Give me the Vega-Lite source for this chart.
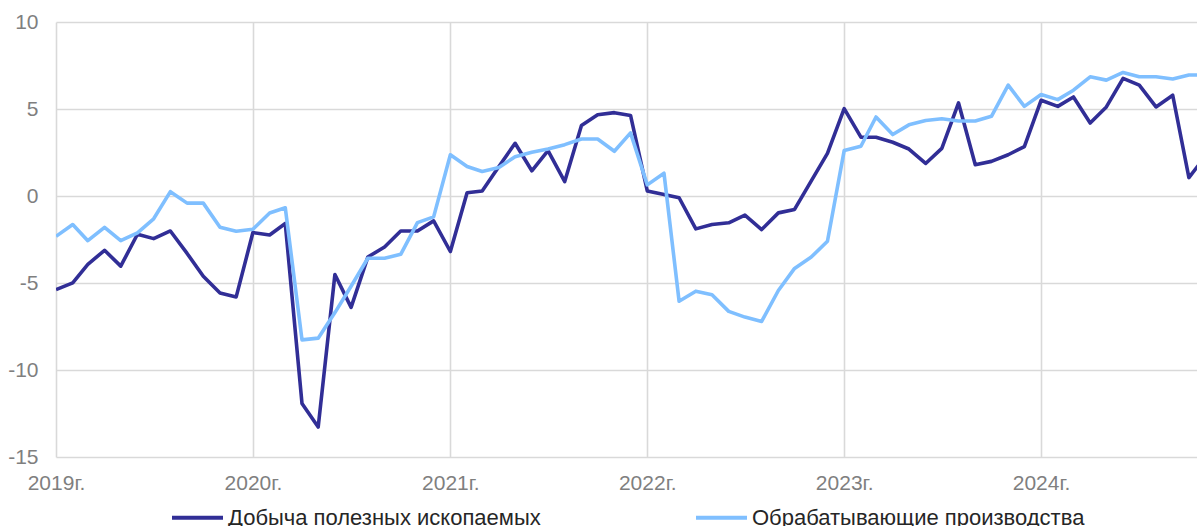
{
  "$schema": "https://vega.github.io/schema/vega-lite/v6.json",
  "autosize": {"type": "none"},
  "width": 1141,
  "height": 435,
  "padding": {"left": 56, "top": 22, "right": 0, "bottom": 69},
  "background": "white",
  "config": {
    "view": {"stroke": null},
    "font": "Liberation Sans"
  },
  "datasets": {
    "d": [
      {"m": "2019-01-01", "s": "Добыча полезных ископаемых", "v": -5.38},
      {"m": "2019-02-01", "s": "Добыча полезных ископаемых", "v": -4.99},
      {"m": "2019-03-01", "s": "Добыча полезных ископаемых", "v": -3.93},
      {"m": "2019-04-01", "s": "Добыча полезных ископаемых", "v": -3.12},
      {"m": "2019-05-01", "s": "Добыча полезных ископаемых", "v": -4.03},
      {"m": "2019-06-01", "s": "Добыча полезных ископаемых", "v": -2.2},
      {"m": "2019-07-01", "s": "Добыча полезных ископаемых", "v": -2.45},
      {"m": "2019-08-01", "s": "Добыча полезных ископаемых", "v": -2.01},
      {"m": "2019-09-01", "s": "Добыча полезных ископаемых", "v": -3.3},
      {"m": "2019-10-01", "s": "Добыча полезных ископаемых", "v": -4.61},
      {"m": "2019-11-01", "s": "Добыча полезных ископаемых", "v": -5.57},
      {"m": "2019-12-01", "s": "Добыча полезных ископаемых", "v": -5.8},
      {"m": "2020-01-01", "s": "Добыча полезных ископаемых", "v": -2.1},
      {"m": "2020-02-01", "s": "Добыча полезных ископаемых", "v": -2.24},
      {"m": "2020-03-01", "s": "Добыча полезных ископаемых", "v": -1.58},
      {"m": "2020-04-01", "s": "Добыча полезных ископаемых", "v": -11.93},
      {"m": "2020-05-01", "s": "Добыча полезных ископаемых", "v": -13.28},
      {"m": "2020-06-01", "s": "Добыча полезных ископаемых", "v": -4.51},
      {"m": "2020-07-01", "s": "Добыча полезных ископаемых", "v": -6.4},
      {"m": "2020-08-01", "s": "Добыча полезных ископаемых", "v": -3.51},
      {"m": "2020-09-01", "s": "Добыча полезных ископаемых", "v": -2.93},
      {"m": "2020-10-01", "s": "Добыча полезных ископаемых", "v": -2.01},
      {"m": "2020-11-01", "s": "Добыча полезных ископаемых", "v": -2.01},
      {"m": "2020-12-01", "s": "Добыча полезных ископаемых", "v": -1.43},
      {"m": "2021-01-01", "s": "Добыча полезных ископаемых", "v": -3.19},
      {"m": "2021-02-01", "s": "Добыча полезных ископаемых", "v": 0.19},
      {"m": "2021-03-01", "s": "Добыча полезных ископаемых", "v": 0.29},
      {"m": "2021-04-01", "s": "Добыча полезных ископаемых", "v": 1.7},
      {"m": "2021-05-01", "s": "Добыча полезных ископаемых", "v": 3.03},
      {"m": "2021-06-01", "s": "Добыча полезных ископаемых", "v": 1.45},
      {"m": "2021-07-01", "s": "Добыча полезных ископаемых", "v": 2.61},
      {"m": "2021-08-01", "s": "Добыча полезных ископаемых", "v": 0.83},
      {"m": "2021-09-01", "s": "Добыча полезных ископаемых", "v": 4.05},
      {"m": "2021-10-01", "s": "Добыча полезных ископаемых", "v": 4.67},
      {"m": "2021-11-01", "s": "Добыча полезных ископаемых", "v": 4.79},
      {"m": "2021-12-01", "s": "Добыча полезных ископаемых", "v": 4.63},
      {"m": "2022-01-01", "s": "Добыча полезных ископаемых", "v": 0.29},
      {"m": "2022-02-01", "s": "Добыча полезных ископаемых", "v": 0.08},
      {"m": "2022-03-01", "s": "Добыча полезных ископаемых", "v": -0.1},
      {"m": "2022-04-01", "s": "Добыча полезных ископаемых", "v": -1.89},
      {"m": "2022-05-01", "s": "Добыча полезных ископаемых", "v": -1.64},
      {"m": "2022-06-01", "s": "Добыча полезных ископаемых", "v": -1.54},
      {"m": "2022-07-01", "s": "Добыча полезных ископаемых", "v": -1.1},
      {"m": "2022-08-01", "s": "Добыча полезных ископаемых", "v": -1.93},
      {"m": "2022-09-01", "s": "Добыча полезных ископаемых", "v": -0.97},
      {"m": "2022-10-01", "s": "Добыча полезных ископаемых", "v": -0.77},
      {"m": "2022-11-01", "s": "Добыча полезных ископаемых", "v": 0.87},
      {"m": "2022-12-01", "s": "Добыча полезных ископаемых", "v": 2.45},
      {"m": "2023-01-01", "s": "Добыча полезных ископаемых", "v": 5.02},
      {"m": "2023-02-01", "s": "Добыча полезных ископаемых", "v": 3.38},
      {"m": "2023-03-01", "s": "Добыча полезных ископаемых", "v": 3.38},
      {"m": "2023-04-01", "s": "Добыча полезных ископаемых", "v": 3.09},
      {"m": "2023-05-01", "s": "Добыча полезных ископаемых", "v": 2.7},
      {"m": "2023-06-01", "s": "Добыча полезных ископаемых", "v": 1.87},
      {"m": "2023-07-01", "s": "Добыча полезных ископаемых", "v": 2.74},
      {"m": "2023-08-01", "s": "Добыча полезных ископаемых", "v": 5.35},
      {"m": "2023-09-01", "s": "Добыча полезных ископаемых", "v": 1.8},
      {"m": "2023-10-01", "s": "Добыча полезных ископаемых", "v": 1.99},
      {"m": "2023-11-01", "s": "Добыча полезных ископаемых", "v": 2.37},
      {"m": "2023-12-01", "s": "Добыча полезных ископаемых", "v": 2.84},
      {"m": "2024-01-01", "s": "Добыча полезных ископаемых", "v": 5.5},
      {"m": "2024-02-01", "s": "Добыча полезных ископаемых", "v": 5.15},
      {"m": "2024-03-01", "s": "Добыча полезных ископаемых", "v": 5.69},
      {"m": "2024-04-01", "s": "Добыча полезных ископаемых", "v": 4.19},
      {"m": "2024-05-01", "s": "Добыча полезных ископаемых", "v": 5.12},
      {"m": "2024-06-01", "s": "Добыча полезных ископаемых", "v": 6.76},
      {"m": "2024-07-01", "s": "Добыча полезных ископаемых", "v": 6.37},
      {"m": "2024-08-01", "s": "Добыча полезных ископаемых", "v": 5.12},
      {"m": "2024-09-01", "s": "Добыча полезных ископаемых", "v": 5.79},
      {"m": "2024-10-01", "s": "Добыча полезных ископаемых", "v": 1.06},
      {"m": "2024-11-01", "s": "Добыча полезных ископаемых", "v": 2.3},
      {"m": "2019-01-01", "s": "Обрабатывающие производства", "v": -2.32},
      {"m": "2019-02-01", "s": "Обрабатывающие производства", "v": -1.64},
      {"m": "2019-03-01", "s": "Обрабатывающие производства", "v": -2.57},
      {"m": "2019-04-01", "s": "Обрабатывающие производства", "v": -1.8},
      {"m": "2019-05-01", "s": "Обрабатывающие производства", "v": -2.57},
      {"m": "2019-06-01", "s": "Обрабатывающие производства", "v": -2.12},
      {"m": "2019-07-01", "s": "Обрабатывающие производства", "v": -1.31},
      {"m": "2019-08-01", "s": "Обрабатывающие производства", "v": 0.25},
      {"m": "2019-09-01", "s": "Обрабатывающие производства", "v": -0.41},
      {"m": "2019-10-01", "s": "Обрабатывающие производства", "v": -0.41},
      {"m": "2019-11-01", "s": "Обрабатывающие производства", "v": -1.8},
      {"m": "2019-12-01", "s": "Обрабатывающие производства", "v": -2.03},
      {"m": "2020-01-01", "s": "Обрабатывающие производства", "v": -1.91},
      {"m": "2020-02-01", "s": "Обрабатывающие производства", "v": -0.98},
      {"m": "2020-03-01", "s": "Обрабатывающие производства", "v": -0.68},
      {"m": "2020-04-01", "s": "Обрабатывающие производства", "v": -8.27},
      {"m": "2020-05-01", "s": "Обрабатывающие производства", "v": -8.17},
      {"m": "2020-06-01", "s": "Обрабатывающие производства", "v": -6.7},
      {"m": "2020-07-01", "s": "Обрабатывающие производства", "v": -5.19},
      {"m": "2020-08-01", "s": "Обрабатывающие производства", "v": -3.58},
      {"m": "2020-09-01", "s": "Обрабатывающие производства", "v": -3.58},
      {"m": "2020-10-01", "s": "Обрабатывающие производства", "v": -3.35},
      {"m": "2020-11-01", "s": "Обрабатывающие производства", "v": -1.53},
      {"m": "2020-12-01", "s": "Обрабатывающие производства", "v": -1.2},
      {"m": "2021-01-01", "s": "Обрабатывающие производства", "v": 2.37},
      {"m": "2021-02-01", "s": "Обрабатывающие производства", "v": 1.7},
      {"m": "2021-03-01", "s": "Обрабатывающие производства", "v": 1.41},
      {"m": "2021-04-01", "s": "Обрабатывающие производства", "v": 1.64},
      {"m": "2021-05-01", "s": "Обрабатывающие производства", "v": 2.26},
      {"m": "2021-06-01", "s": "Обрабатывающие производства", "v": 2.51},
      {"m": "2021-07-01", "s": "Обрабатывающие производства", "v": 2.7},
      {"m": "2021-08-01", "s": "Обрабатывающие производства", "v": 2.95},
      {"m": "2021-09-01", "s": "Обрабатывающие производства", "v": 3.28},
      {"m": "2021-10-01", "s": "Обрабатывающие производства", "v": 3.28},
      {"m": "2021-11-01", "s": "Обрабатывающие производства", "v": 2.57},
      {"m": "2021-12-01", "s": "Обрабатывающие производства", "v": 3.63},
      {"m": "2022-01-01", "s": "Обрабатывающие производства", "v": 0.64},
      {"m": "2022-02-01", "s": "Обрабатывающие производства", "v": 1.31},
      {"m": "2022-03-01", "s": "Обрабатывающие производства", "v": -6.05},
      {"m": "2022-04-01", "s": "Обрабатывающие производства", "v": -5.47},
      {"m": "2022-05-01", "s": "Обрабатывающие производства", "v": -5.67},
      {"m": "2022-06-01", "s": "Обрабатывающие производства", "v": -6.63},
      {"m": "2022-07-01", "s": "Обрабатывающие производства", "v": -6.96},
      {"m": "2022-08-01", "s": "Обрабатывающие производства", "v": -7.21},
      {"m": "2022-09-01", "s": "Обрабатывающие производства", "v": -5.43},
      {"m": "2022-10-01", "s": "Обрабатывающие производства", "v": -4.16},
      {"m": "2022-11-01", "s": "Обрабатывающие производства", "v": -3.51},
      {"m": "2022-12-01", "s": "Обрабатывающие производства", "v": -2.6},
      {"m": "2023-01-01", "s": "Обрабатывающие производства", "v": 2.61},
      {"m": "2023-02-01", "s": "Обрабатывающие производства", "v": 2.86},
      {"m": "2023-03-01", "s": "Обрабатывающие производства", "v": 4.54},
      {"m": "2023-04-01", "s": "Обрабатывающие производства", "v": 3.53},
      {"m": "2023-05-01", "s": "Обрабатывающие производства", "v": 4.09},
      {"m": "2023-06-01", "s": "Обрабатывающие производства", "v": 4.34},
      {"m": "2023-07-01", "s": "Обрабатывающие производства", "v": 4.44},
      {"m": "2023-08-01", "s": "Обрабатывающие производства", "v": 4.31},
      {"m": "2023-09-01", "s": "Обрабатывающие производства", "v": 4.31},
      {"m": "2023-10-01", "s": "Обрабатывающие производства", "v": 4.58},
      {"m": "2023-11-01", "s": "Обрабатывающие производства", "v": 6.37},
      {"m": "2023-12-01", "s": "Обрабатывающие производства", "v": 5.15},
      {"m": "2024-01-01", "s": "Обрабатывающие производства", "v": 5.83},
      {"m": "2024-02-01", "s": "Обрабатывающие производства", "v": 5.54},
      {"m": "2024-03-01", "s": "Обрабатывающие производства", "v": 6.08},
      {"m": "2024-04-01", "s": "Обрабатывающие производства", "v": 6.85},
      {"m": "2024-05-01", "s": "Обрабатывающие производства", "v": 6.66},
      {"m": "2024-06-01", "s": "Обрабатывающие производства", "v": 7.1},
      {"m": "2024-07-01", "s": "Обрабатывающие производства", "v": 6.85},
      {"m": "2024-08-01", "s": "Обрабатывающие производства", "v": 6.85},
      {"m": "2024-09-01", "s": "Обрабатывающие производства", "v": 6.72},
      {"m": "2024-10-01", "s": "Обрабатывающие производства", "v": 6.95},
      {"m": "2024-11-01", "s": "Обрабатывающие производства", "v": 6.95}
    ]
  },
  "data": {"name": "d"},
  "mark": {"type": "line", "strokeWidth": 3.6, "clip": true, "strokeJoin": "round"},
  "encoding": {
    "x": {
      "field": "m",
      "type": "temporal",
      "scale": {
        "type": "utc",
        "domain": [
          {"year": 2019, "month": 1, "date": 1, "utc": true},
          {"year": 2024, "month": 10, "date": 16, "utc": true}
        ]
      },
      "axis": {
        "title": null,
        "values": [
          {"year": 2019, "month": 1, "date": 1, "utc": true},
          {"year": 2020, "month": 1, "date": 1, "utc": true},
          {"year": 2021, "month": 1, "date": 1, "utc": true},
          {"year": 2022, "month": 1, "date": 1, "utc": true},
          {"year": 2023, "month": 1, "date": 1, "utc": true},
          {"year": 2024, "month": 1, "date": 1, "utc": true}
        ],
        "labelExpr": "utcFormat(datum.value, '%Y') + 'г.'",
        "domain": false,
        "ticks": false,
        "grid": true,
        "gridColor": "#d9d9d9",
        "gridWidth": 1.6,
        "labelColor": "#7f7f7f",
        "labelFontSize": 21,
        "labelPadding": 15,
        "labelAlign": "center",
        "labelFlush": false,
        "labelOverlap": false
      }
    },
    "y": {
      "field": "v",
      "type": "quantitative",
      "scale": {"domain": [-15, 10], "nice": false, "zero": false},
      "axis": {
        "title": null,
        "values": [-15, -10, -5, 0, 5, 10],
        "labelExpr": "'' + datum.value",
        "domain": false,
        "ticks": false,
        "grid": true,
        "gridColor": "#d9d9d9",
        "gridWidth": 1.6,
        "labelColor": "#7f7f7f",
        "labelFontSize": 21,
        "labelPadding": 18
      }
    },
    "color": {
      "field": "s",
      "type": "nominal",
      "scale": {
        "domain": ["Добыча полезных ископаемых", "Обрабатывающие производства"],
        "range": ["#312e96", "#7fbfff"]
      },
      "legend": {
        "title": null,
        "orient": "none",
        "direction": "horizontal",
        "legendX": 114,
        "legendY": 468,
        "symbolType": "stroke",
        "symbolSize": 2601,
        "symbolStrokeWidth": 3.8,
        "labelFontSize": 22,
        "labelColor": "#262626",
        "labelOffset": 3,
        "columnPadding": 147,
        "labelLimit": 0
      }
    }
  }
}
